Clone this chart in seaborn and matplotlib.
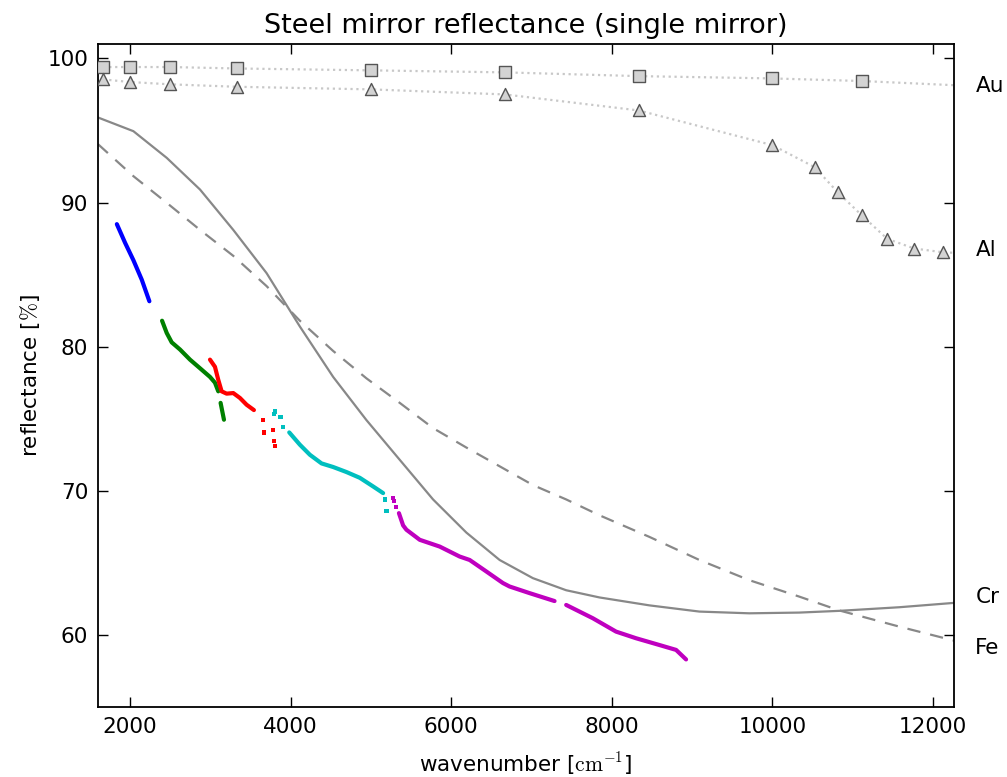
import numpy as np
import pandas as pd
import seaborn as sns
import matplotlib
matplotlib.use("Agg")
from matplotlib import pyplot as plt

# reference metals (literature values), wavenumber in cm^-1, reflectance in %
au_wn = [1667, 2000, 2500, 3333, 5000, 6667, 8333, 10000, 11111]
au_r = [99.4, 99.4, 99.4, 99.3, 99.17, 99.03, 98.77, 98.61, 98.43]
au_line_wn = au_wn + [12500]
au_line_r = au_r + [98.08]

al_wn = [1667, 2000, 2500, 3333, 5000, 6667, 8333, 10000, 10526, 10811, 11111, 11429, 11765, 12121]
al_r = [98.54, 98.36, 98.2, 98.03, 97.85, 97.5, 96.39, 93.98, 92.45, 90.72, 89.12, 87.48, 86.81, 86.55]
al_line_wn = al_wn + [12500]
al_line_r = al_r + [86.45]

cr_wn = [1600, 2041, 2456, 2871, 3285, 3700, 4114, 4529, 4944, 5358, 5773, 6188,
         6602, 7016, 7431, 7846, 8468, 9090, 9711, 10333, 10831, 11577, 12300]
cr_r = [95.9, 94.95, 93.1, 90.9, 88.1, 85.1, 81.4, 77.9, 74.9, 72.15, 69.4, 67.1,
        65.2, 63.94, 63.1, 62.6, 62.05, 61.62, 61.5, 61.55, 61.67, 61.92, 62.24]

fe_wn = [1600, 2041, 2456, 2871, 3285, 3700, 4114, 4529, 4944, 5358, 5773, 6188,
         6602, 7016, 7431, 7846, 8468, 9090, 9711, 10333, 10831, 11577, 12300]
fe_r = [94.05, 91.83, 89.98, 88.1, 86.3, 84.2, 81.8, 79.7, 77.8, 76.1, 74.35, 73.0,
        71.7, 70.4, 69.4, 68.3, 66.8, 65.2, 63.8, 62.66, 61.7, 60.58, 59.55]

metal_labels = ['Au', 'Al', 'Cr', 'Fe']
metal_label_r = [98.1, 86.7, 62.6, 59.1]

# measured steel mirror, one entry per detector band
band_colors = {'b': 'blue', 'g': 'green', 'r': 'red', 'c': 'c', 'm': 'm'}

meas_segments = [
    ('b', [1835, 1938, 2041, 2145, 2240], [88.5, 87.2, 86.0, 84.65, 83.15]),
    ('g', [2398, 2456, 2518, 2622, 2746, 2871, 2995, 3057, 3098],
          [81.8, 80.95, 80.3, 79.8, 79.1, 78.5, 77.9, 77.5, 76.9]),
    ('g', [3127, 3169], [76.1, 74.93]),
    ('r', [2995, 3057, 3098, 3140, 3202, 3285, 3368, 3451, 3542],
          [79.1, 78.6, 77.7, 76.9, 76.74, 76.78, 76.44, 75.97, 75.6]),
    ('c', [3982, 4114, 4239, 4384, 4529, 4695, 4861, 5027, 5151],
          [74.05, 73.2, 72.5, 71.9, 71.65, 71.3, 70.9, 70.3, 69.84]),
    ('m', [5348, 5400, 5441, 5607, 5856, 6104, 6229, 6437, 6643, 6726, 6975, 7286],
          [68.45, 67.6, 67.3, 66.6, 66.13, 65.44, 65.2, 64.4, 63.6, 63.36, 62.9, 62.35]),
    ('m', [7431, 7762, 8052, 8301, 8592, 8800, 8924],
          [62.08, 61.16, 60.23, 59.77, 59.3, 58.96, 58.3]),
]

# stray single points between the bands
dot_band = ['r', 'r', 'r', 'r', 'r', 'c', 'c', 'c', 'c', 'c', 'c', 'm', 'm', 'm']
dot_wn = [3658, 3670, 3782, 3795, 3800, 3791, 3800, 3874, 3907, 5172, 5193, 5275, 5290, 5316]
dot_r = [74.9, 74.05, 74.24, 73.45, 73.1, 75.3, 75.5, 75.1, 74.4, 69.4, 68.6, 69.5, 69.3, 68.9]

rows = []
for i, (band, wn, r) in enumerate(meas_segments):
    for w, v in zip(wn, r):
        rows.append({'wn': w, 'R': v, 'band': band, 'seg': i})
meas = pd.DataFrame(rows)
dots = pd.DataFrame({'wn': dot_wn, 'R': dot_r, 'band': dot_band})

sns.set_style('ticks')
plt.rcParams['font.family'] = ['DejaVu Sans']
plt.rcParams['mathtext.fontset'] = 'cm'
plt.rcParams['xtick.direction'] = 'in'
plt.rcParams['ytick.direction'] = 'in'
plt.rcParams['text.color'] = 'black'
plt.rcParams['axes.labelcolor'] = 'black'
plt.rcParams['xtick.color'] = 'black'
plt.rcParams['ytick.color'] = 'black'
plt.rcParams['axes.edgecolor'] = 'black'

fig = plt.figure(figsize=(10.07, 7.77), dpi=100)
ax = fig.add_axes([0.0973, 0.0901, 0.8500, 0.8533])

# dotted literature curves with markers
sns.lineplot(x=au_line_wn, y=au_line_r, ax=ax, color='#c8c8c8', ls=':', lw=1.6, sort=False)
sns.lineplot(x=al_line_wn, y=al_line_r, ax=ax, color='#c8c8c8', ls=':', lw=1.6, sort=False)
sns.scatterplot(x=au_wn, y=au_r, ax=ax, marker='s', s=70, color='#d3d3d3',
                edgecolor='#555555', linewidth=1, zorder=3)
sns.scatterplot(x=al_wn, y=al_r, ax=ax, marker='^', s=75, color='#d3d3d3',
                edgecolor='#555555', linewidth=1, zorder=3)

sns.lineplot(x=cr_wn, y=cr_r, ax=ax, color='#888888', lw=1.6, sort=False)
sns.lineplot(x=fe_wn, y=fe_r, ax=ax, color='#888888', lw=1.6, sort=False)
ax.lines[-1].set_linestyle((0, (6, 4.5)))

sns.lineplot(data=meas, x='wn', y='R', hue='band', units='seg', estimator=None,
             palette=band_colors, lw=3, sort=False, legend=False, ax=ax)
sns.scatterplot(data=dots, x='wn', y='R', hue='band', palette=band_colors, marker='s',
                s=9, linewidth=0, legend=False, ax=ax)

for name, r in zip(metal_labels, metal_label_r):
    ax.text(1.025, r, name, transform=ax.get_yaxis_transform(), ha='left', va='center',
            fontsize=15.5)

ax.set_xlim(1600, 12260)
ax.set_ylim(55, 101)
ax.set_xticks([2000, 4000, 6000, 8000, 10000, 12000])
ax.set_yticks([60, 70, 80, 90, 100])
ax.tick_params(which='both', top=True, right=True, length=7, width=1,
               labelsize=15.5, pad=7)
for sp in ax.spines.values():
    sp.set_linewidth(1.3)

ax.set_title('Steel mirror reflectance (single mirror)', fontsize=19.5, pad=8)
ax.set_xlabel(r'wavenumber [$\mathrm{cm}^{-1}$]', fontsize=15.5, labelpad=10)
ax.set_ylabel(r'reflectance [$\%$]', fontsize=15.5)

fig.savefig('out.png', dpi=100)
